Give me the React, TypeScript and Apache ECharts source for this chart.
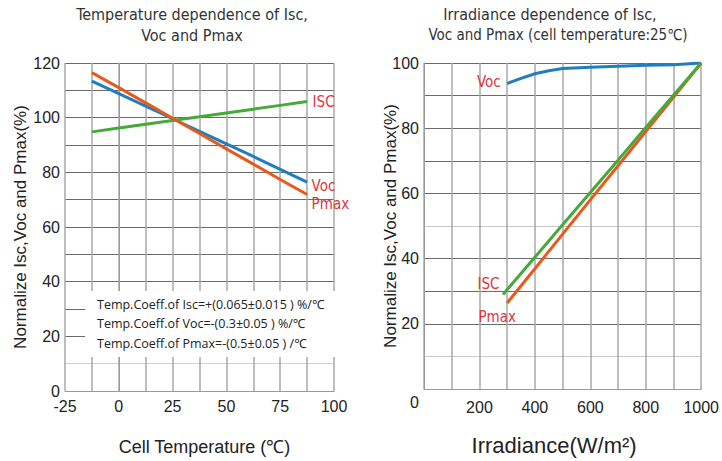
import { useEffect, useRef } from 'react';
import * as echarts from 'echarts';

// Left chart: temperature dependence
const tempX = [-12.5, 0, 12.5, 25, 37.5, 50, 62.5, 75, 87.5];
const tempVoc = [113.4, 108.8, 104.2, 99.6, 95.0, 90.4, 85.8, 81.1, 76.4];
const tempPmax = [116.5, 111.0, 105.4, 99.8, 94.2, 88.6, 83.0, 77.4, 71.9];
const tempIsc = [94.8, 96.2, 97.6, 99.0, 100.3, 101.7, 103.1, 104.5, 105.9];
const tempXTicks = ['-25', '0', '25', '50', '75', '100'];
const tempYTicks = ['0', '20', '40', '60', '80', '100', '120'];

// Right chart: irradiance dependence
const irrVocX = [300, 350, 400, 450, 500, 600, 700, 800, 900, 1000];
const irrVoc = [93.7, 95.3, 96.7, 97.6, 98.3, 98.7, 99.0, 99.3, 99.5, 100];
const irrIscX = [285, 400, 500, 600, 700, 800, 900, 1000];
const irrIsc = [29, 40.4, 50.4, 60.3, 70.2, 80.2, 90.1, 100];
const irrPmaxX = [300, 400, 500, 600, 700, 800, 900, 1000];
const irrPmax = [26.4, 36.9, 47.5, 58.0, 68.5, 79.0, 89.5, 100];
const irrXTicks = ['200', '400', '600', '800', '1000'];
const irrYTicks = ['20', '40', '60', '80', '100'];

const coeffLines = [
  'Temp.Coeff.of Isc=+(0.065±0.015 ) %/℃',
  'Temp.Coeff.of Voc=-(0.3±0.05 ) %/℃',
  'Temp.Coeff.of Pmax=-(0.5±0.05 ) /℃',
];

const NARROW = "'Liberation Sans Narrow','DejaVu Sans Condensed',Arial,sans-serif";
const SANS = "'Liberation Sans',Arial,sans-serif";
const BLUE = '#1f7ec2';
const ORANGE = '#e85a1c';
const GREEN = '#46aa3a';
const LABEL_RED = '#e0343c';

const zip = (xs: number[], ys: number[]) => xs.map((x, i) => [x, ys[i]]);

function mark(x: number, y: number, text: string, position: string, distance: number, offset: number[]) {
  return {
    symbol: 'circle',
    symbolSize: 1,
    itemStyle: { color: 'rgba(0,0,0,0)' },
    data: [
      {
        coord: [x, y],
        label: {
          show: true,
          formatter: text,
          position,
          distance,
          offset,
          color: LABEL_RED,
          fontFamily: NARROW,
          fontSize: 15,
        },
      },
    ],
  };
}

export default function App() {
  const ref = useRef<HTMLDivElement>(null);
  useEffect(() => {
    if (!ref.current) return;
    const chart = echarts.init(ref.current, null, { renderer: 'svg' });
    const last = (a: number[]) => a[a.length - 1];
    const hColorsL = Array.from({ length: 13 }, (_, i) => (i === 1 ? '#d0d0d0' : '#6a6a6a'));
    const hColorsR = Array.from({ length: 11 }, (_, i) => (i === 1 || i === 5 ? '#c8c8c8' : '#6a6a6a'));
    const option: any = {
      animation: false,
      backgroundColor: '#fff',
      grid: [
        { left: 65, top: 63, width: 269, height: 329 },
        { left: 424, top: 63, width: 279, height: 329 },
      ],
      xAxis: [
        {
          gridIndex: 0,
          type: 'value',
          min: -25,
          max: 100,
          interval: 12.5,
          axisLine: { show: true, lineStyle: { color: '#9a9a9a' } },
          axisTick: { show: false },
          splitLine: { show: true, lineStyle: { color: '#a8a8a8', width: 1.5 } },
          axisLabel: {
            margin: 7,
            color: '#222',
            fontFamily: SANS,
            fontSize: 16,
            formatter: (v: number) => (tempXTicks.includes(String(v)) ? String(v) : ''),
          },
          name: 'Cell Temperature (℃)',
          nameLocation: 'middle',
          nameGap: 47,
          nameMoveOverlap: false,
          nameTextStyle: { color: '#222', fontFamily: SANS, fontSize: 18, padding: [0, 0, 0, 10] },
        },
        {
          gridIndex: 1,
          type: 'value',
          min: 0,
          max: 1000,
          interval: 100,
          axisLine: { show: true, lineStyle: { color: '#9a9a9a' } },
          axisTick: { show: false },
          splitLine: { show: true, lineStyle: { color: '#a8a8a8', width: 1.5 } },
          axisLabel: {
            margin: 10,
            color: '#222',
            fontFamily: SANS,
            fontSize: 16,
            formatter: (v: number) => (irrXTicks.includes(String(v)) ? String(v) : ''),
          },
          name: 'Irradiance(W/m²)',
          nameLocation: 'middle',
          nameGap: 45,
          nameMoveOverlap: false,
          nameTextStyle: { color: '#222', fontFamily: SANS, fontSize: 22, padding: [0, 17, 0, 0] },
        },
      ],
      yAxis: [
        {
          gridIndex: 0,
          type: 'value',
          min: 0,
          max: 120,
          interval: 10,
          axisLine: { show: true, lineStyle: { color: '#9a9a9a' } },
          axisTick: { show: false },
          splitLine: { show: true, lineStyle: { color: hColorsL, width: 1 } },
          axisLabel: {
            margin: 5,
            color: '#222',
            fontFamily: SANS,
            fontSize: 16,
            formatter: (v: number) => (tempYTicks.includes(String(v)) ? String(v) : ''),
          },
          name: 'Normalize Isc,Voc and Pmax(%)',
          nameLocation: 'middle',
          nameGap: 36,
          nameMoveOverlap: false,
          nameTextStyle: { color: '#222', fontFamily: SANS, fontSize: 17 },
        },
        {
          gridIndex: 1,
          type: 'value',
          min: 0,
          max: 100,
          interval: 10,
          axisLine: { show: true, lineStyle: { color: '#9a9a9a' } },
          axisTick: { show: false },
          splitLine: { show: true, lineStyle: { color: hColorsR, width: 1 } },
          axisLabel: {
            margin: 5,
            color: '#222',
            fontFamily: SANS,
            fontSize: 16,
            formatter: (v: number) =>
              v === 0 ? '{z|0}' : irrYTicks.includes(String(v)) ? String(v) : '',
            rich: { z: { padding: [26, 0, 0, 0], fontFamily: SANS, fontSize: 16, color: '#222' } },
          },
          name: 'Normalize Isc,Voc and Pmax(%)',
          nameLocation: 'middle',
          nameGap: 25,
          nameMoveOverlap: false,
          nameTextStyle: { color: '#222', fontFamily: SANS, fontSize: 17 },
        },
      ],
      series: [
        {
          type: 'line',
          xAxisIndex: 0,
          yAxisIndex: 0,
          data: zip(tempX, tempIsc),
          showSymbol: false,
          lineStyle: { color: GREEN, width: 3 },
          z: 3,
          markPoint: mark(last(tempX), last(tempIsc), 'ISC', 'right', 5, [0, 0]),
        },
        {
          type: 'line',
          xAxisIndex: 0,
          yAxisIndex: 0,
          data: zip(tempX, tempVoc),
          showSymbol: false,
          lineStyle: { color: BLUE, width: 3 },
          z: 3,
          markPoint: mark(last(tempX), last(tempVoc), 'Voc', 'right', 4, [0, 4]),
        },
        {
          type: 'line',
          xAxisIndex: 0,
          yAxisIndex: 0,
          data: zip(tempX, tempPmax),
          showSymbol: false,
          lineStyle: { color: ORANGE, width: 3 },
          z: 3,
          markPoint: mark(last(tempX), last(tempPmax), 'Pmax', 'right', 4, [0, 10]),
        },
        {
          type: 'line',
          xAxisIndex: 1,
          yAxisIndex: 1,
          data: zip(irrVocX, irrVoc),
          showSymbol: false,
          lineStyle: { color: BLUE, width: 3 },
          z: 3,
          markPoint: mark(irrVocX[0], irrVoc[0], 'Voc', 'left', 6, [0, -2]),
        },
        {
          type: 'line',
          xAxisIndex: 1,
          yAxisIndex: 1,
          data: zip(irrPmaxX, irrPmax),
          showSymbol: false,
          lineStyle: { color: ORANGE, width: 3 },
          z: 3,
          markPoint: mark(irrPmaxX[0], irrPmax[0], 'Pmax', 'bottom', 6, [-10, 0]),
        },
        {
          type: 'line',
          xAxisIndex: 1,
          yAxisIndex: 1,
          data: zip(irrIscX, irrIsc),
          showSymbol: false,
          lineStyle: { color: GREEN, width: 3 },
          z: 4,
          markPoint: mark(irrIscX[0], irrIsc[0], 'ISC', 'left', 3, [0, -10]),
        },
      ],
      graphic: [
        {
          type: 'rect',
          z: 10,
          shape: { x: 85, y: 291, width: 251, height: 66 },
          style: { fill: '#fff' },
        },
        ...coeffLines.map((t, i) => ({
          type: 'text',
          z: 11,
          x: 97,
          y: 304 + i * 19.5,
          style: {
            text: t,
            fill: '#222',
            font: "12.5px 'Open Sans', 'Noto Sans', sans-serif",
            align: 'left',
            verticalAlign: 'middle',
          },
        })),
        {
          type: 'text',
          x: 192,
          y: 14,
          style: {
            text: 'Temperature dependence of Isc,',
            fill: '#333',
            font: `16px ${NARROW}`,
            align: 'center',
            verticalAlign: 'middle',
          },
        },
        {
          type: 'text',
          x: 192,
          y: 35,
          style: {
            text: 'Voc and Pmax',
            fill: '#333',
            font: `16px ${NARROW}`,
            align: 'center',
            verticalAlign: 'middle',
          },
        },
        {
          type: 'text',
          x: 550,
          y: 14,
          style: {
            text: 'Irradiance dependence of Isc,',
            fill: '#333',
            font: `16px ${NARROW}`,
            align: 'center',
            verticalAlign: 'middle',
          },
        },
        {
          type: 'text',
          x: 558,
          y: 35,
          style: {
            text: 'Voc and Pmax (cell temperature:25℃)',
            fill: '#333',
            font: `15px ${NARROW}`,
            align: 'center',
            verticalAlign: 'middle',
          },
        },
      ],
    };
    chart.setOption(option);
    return () => chart.dispose();
  }, []);
  return (
    <div
      ref={ref}
      style={{ position: 'absolute', left: 0, top: 0, width: 722, height: 461, background: '#fff' }}
    />
  );
}
